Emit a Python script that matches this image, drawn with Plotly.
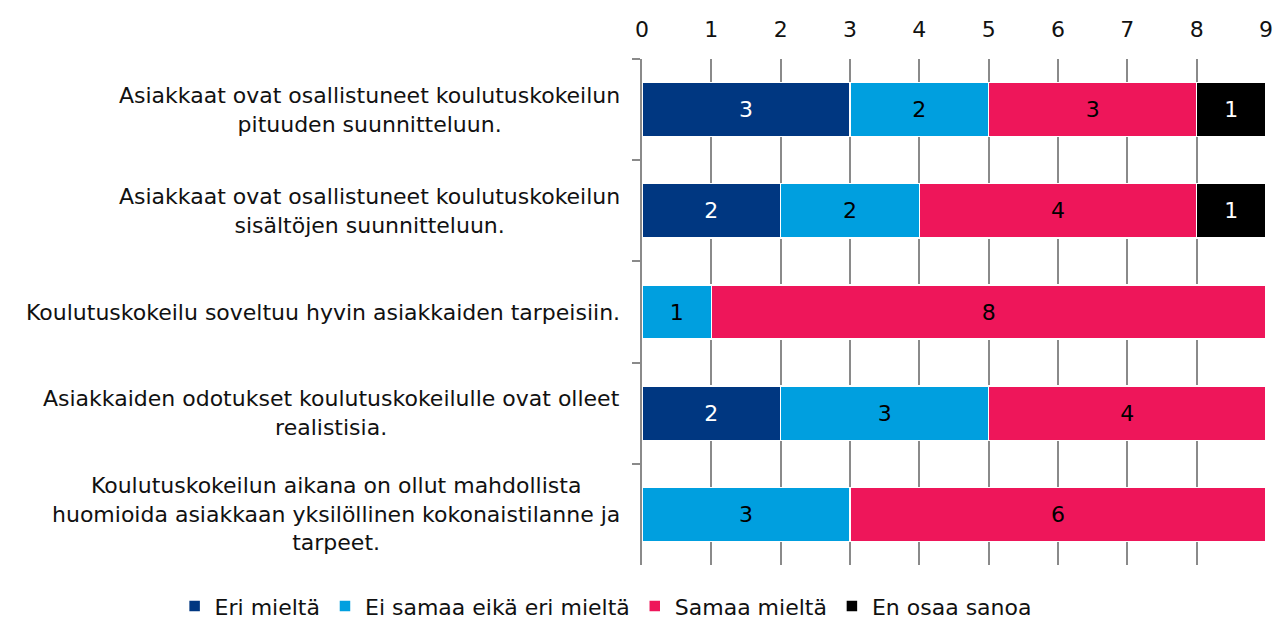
import plotly.graph_objects as go

categories = [
    "Asiakkaat ovat osallistuneet koulutuskokeilun<br>pituuden suunnitteluun.",
    "Asiakkaat ovat osallistuneet koulutuskokeilun<br>sisältöjen suunnitteluun.",
    "Koulutuskokeilu soveltuu hyvin asiakkaiden tarpeisiin.",
    "Asiakkaiden odotukset koulutuskokeilulle ovat olleet<br>realistisia.",
    "Koulutuskokeilun aikana on ollut mahdollista<br>huomioida asiakkaan yksilöllinen kokonaistilanne ja<br>tarpeet.",
]
series_names = ["Eri mieltä", "Ei samaa eikä eri mieltä", "Samaa mieltä", "En osaa sanoa"]
eri = [3, 2, 0, 2, 0]
ei_samaa = [2, 2, 1, 3, 3]
samaa = [3, 4, 8, 4, 6]
en_osaa = [1, 1, 0, 0, 0]
x_ticks = list(range(0, 10))

colors = ["#003781", "#009FDF", "#EE165A", "#000000"]
text_colors = ["white", "black", "black", "white"]
FONT = "DejaVu Sans"

fig = go.Figure()
for name, vals, c, tc in zip(series_names, [eri, ei_samaa, samaa, en_osaa], colors, text_colors):
    fig.add_trace(go.Bar(
        y=categories, x=vals, name=name, orientation="h",
        marker=dict(color=c, line=dict(color="white", width=1.5)),
        text=[str(v) if v else "" for v in vals],
        textposition="inside", insidetextanchor="middle",
        textfont=dict(color=tc, size=22, family=FONT),
        hoverinfo="skip",
    ))

for cat in categories:
    fig.add_annotation(
        x=0, xref="paper", xanchor="right", xshift=-20,
        y=cat, yref="y", text=cat, showarrow=False, align="center",
        font=dict(size=22, family=FONT, color="#111"),
    )

fig.update_layout(
    barmode="stack", bargap=0.465,
    width=1276, height=613,
    margin=dict(l=634, r=18, t=51, b=56, autoexpand=False),
    plot_bgcolor="white", paper_bgcolor="white",
    font=dict(family=FONT, size=22, color="#111"),
    showlegend=True,
    legend=dict(orientation="h", x=-0.749, xref="paper", xanchor="left",
                y=-0.04, yref="paper", yanchor="top", maxheight=200,
                font=dict(size=22, family=FONT), itemwidth=30,
                traceorder="normal"),
    xaxis=dict(side="top", range=[0, 9], tickvals=x_ticks, showgrid=True,
               gridcolor="#8a8a8a", gridwidth=1.5, zeroline=False,
               showline=False, ticks="", ticklabelstandoff=17,
               tickfont=dict(size=22, family=FONT)),
    yaxis=dict(autorange="reversed", showticklabels=False, showline=True,
               linecolor="#8a8a8a", linewidth=1.5, ticks="outside",
               tickson="boundaries", ticklen=8, tickcolor="#8a8a8a",
               tickwidth=1.5, showgrid=False),
)

fig.write_html("out.html")
